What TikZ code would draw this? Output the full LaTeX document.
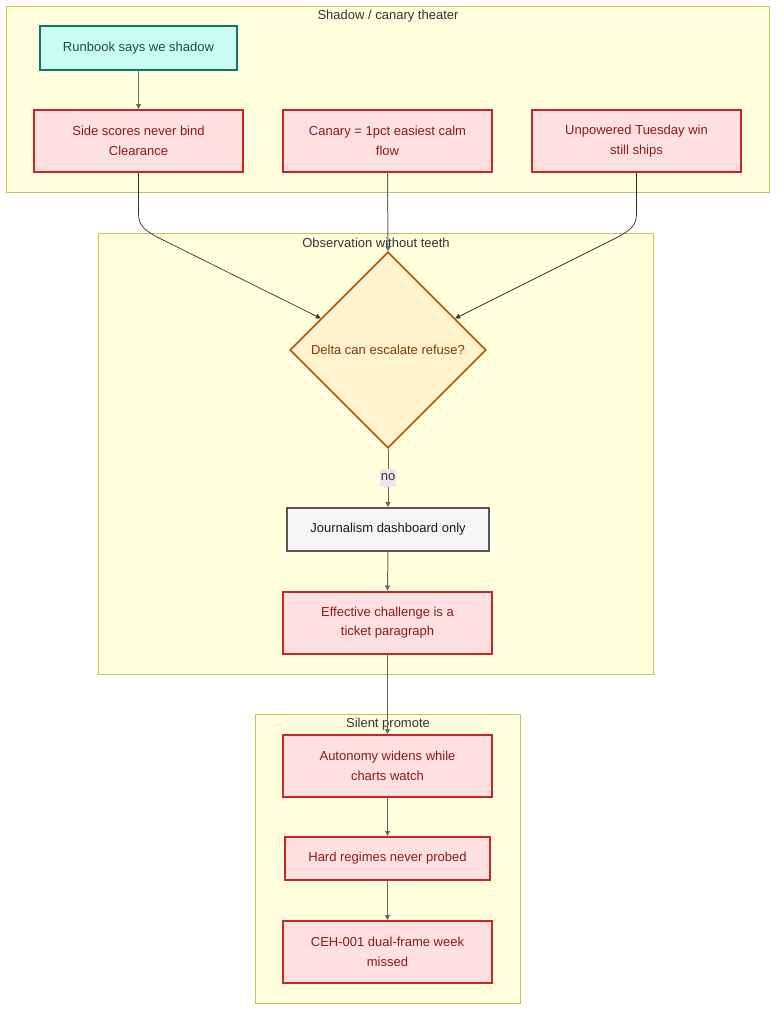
\documentclass[tikz,border=0pt]{standalone}
\usepackage{fontspec}
\setmainfont{Liberation Sans}
\usetikzlibrary{shapes.geometric,arrows.meta,calc}
\definecolor{clfill}{HTML}{FFFFDE}
\definecolor{cldraw}{HTML}{C4C45A}
\definecolor{redfill}{HTML}{FFE0E0}
\definecolor{reddraw}{HTML}{C62828}
\definecolor{redtext}{HTML}{8B1A1A}
\definecolor{tealfill}{HTML}{CCFBF1}
\definecolor{tealdraw}{HTML}{0F766E}
\definecolor{tealtext}{HTML}{134E4A}
\definecolor{grayfill}{HTML}{F5F5F5}
\definecolor{graydraw}{HTML}{555555}
\definecolor{diafill}{HTML}{FFF2CC}
\definecolor{diadraw}{HTML}{B45309}
\definecolor{diatext}{HTML}{7C3A10}
\definecolor{edgecol}{HTML}{333333}
\definecolor{lblfill}{HTML}{E8E8E8}
\tikzset{
  txt/.style={font=\fontsize{13}{19.5}\selectfont},
  cluster/.style={draw=cldraw, fill=clfill, line width=1pt},
  cltitle/.style={txt, text=black!80, inner sep=0pt},
  boxbase/.style={txt, line width=2pt, inner sep=0pt, align=center},
  redbox/.style={boxbase, draw=reddraw, fill=redfill, text=redtext, minimum width=209pt, minimum height=62pt},
  tealbox/.style={boxbase, draw=tealdraw, fill=tealfill, text=tealtext, minimum width=197pt, minimum height=44pt},
  graybox/.style={boxbase, draw=graydraw, fill=grayfill, text=black!90, minimum width=202pt, minimum height=43pt},
  dia/.style={boxbase, diamond, draw=diadraw, fill=diafill, text=diatext, line width=1.6pt, minimum width=196pt, minimum height=196pt},
  arr/.style={draw=edgecol!75, line width=1pt, -{Triangle[length=5pt,width=5pt]}},
  carr/.style={draw=edgecol, line width=0.7pt, -{Triangle[length=5pt,width=5pt]}},
  lbl/.style={txt, fill=lblfill, inner xsep=1pt, minimum height=18pt, inner ysep=0pt, text=black!80},
}
\begin{document}
\begin{tikzpicture}[x=1pt,y=-1pt]
\useasboundingbox (0,0) rectangle (784,1021);
\fill[white] (0,0) rectangle (784,1021);
% clusters
\draw[cluster] (6.5,6.5) rectangle (769.5,192.5);
\node[cltitle] (t1) at (388,16) {Shadow / canary theater};
\draw[cluster] (98.5,233.5) rectangle (653.5,674.5);
\node[cltitle] (t2) at (376,243) {Observation without teeth};
\draw[cluster] (255.5,714.5) rectangle (520.5,1003.5);
\node[cltitle] (t3) at (388,724) {Silent promote};
% nodes
\node[tealbox] (run) at (138.5,48) {Runbook says we shadow};
\node[redbox] (side) at (138.5,141) {Side scores never bind\\Clearance};
\node[redbox] (can) at (387.5,141) {Canary = 1pct easiest calm\\flow};
\node[redbox] (unp) at (636.5,141) {Unpowered Tuesday win\\still ships};
\node[dia] (delta) at (388,350) {Delta can escalate refuse?};
\node[graybox] (jour) at (388,529.5) {Journalism dashboard only};
\node[redbox] (eff) at (387.5,622.5) {Effective challenge is a\\ticket paragraph};
\node[redbox] (aut) at (387.5,766) {Autonomy widens while\\charts watch};
\node[redbox, minimum width=205pt, minimum height=43pt] (hard) at (387.5,858.5) {Hard regimes never probed};
\node[redbox] (ceh) at (387.5,952) {CEH-001 dual-frame week\\missed};
% edge targets
\coordinate (dl) at ($(delta.west)!0.32!(delta.north)$);
\coordinate (dr) at ($(delta.east)!0.32!(delta.north)$);
% edges
\draw[arr] (run.south) -- (side.north);
\draw[carr] (side.south) -- (138.5,214) .. controls (138.5,226) and (146,231) .. (158,237.5) -- (dl);
\draw[carr] (unp.south) -- (636.5,214) .. controls (636.5,226) and (629,231) .. (617,237.5) -- (dr);
\draw[arr] (can.south) -- (delta.north);
\draw[arr] (delta.south) -- (jour.north);
\node[lbl] (no) at (388,477.5) {no};
\draw[arr] (jour.south) -- (eff.north);
\draw[arr] (eff.south) -- (aut.north);
\draw[arr] (aut.south) -- (hard.north);
\draw[arr] (hard.south) -- (ceh.north);
\end{tikzpicture}
\end{document}
